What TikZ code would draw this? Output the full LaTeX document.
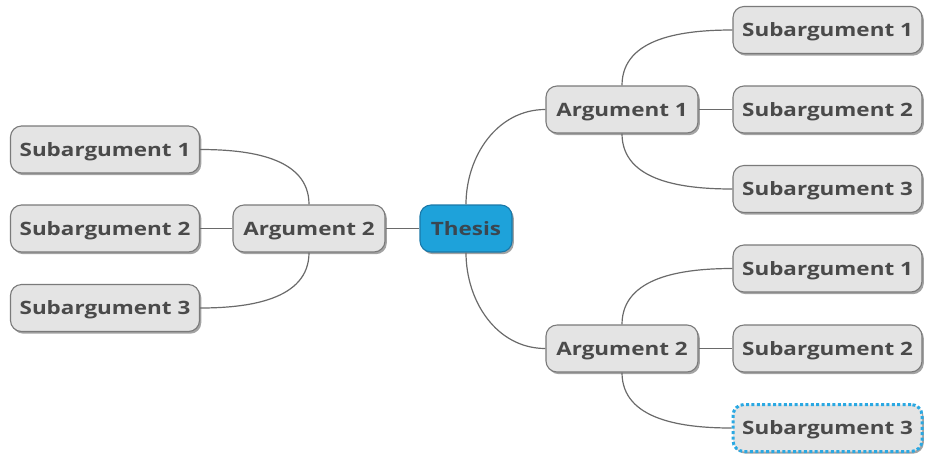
\documentclass[tikz,border=0pt]{standalone}
\usepackage{fontspec}
\newfontfamily\nodefont[FakeStretch=1.22]{Open Sans Bold}
\usetikzlibrary{shadows}
\definecolor{nodefill}{HTML}{E4E4E4}
\definecolor{nodeborder}{HTML}{7A7A7A}
\definecolor{txt}{HTML}{4A4A4A}
\definecolor{thesistxt}{HTML}{3A4650}
\definecolor{thesisfill}{HTML}{1EA2DA}
\definecolor{thesisborder}{HTML}{1A78A8}
\definecolor{selblue}{HTML}{2AA8E2}
\definecolor{linkcol}{HTML}{6A6A6A}
\tikzset{
  box/.style={draw=nodeborder, line width=1.1pt, fill=nodefill, rounded corners=11pt,
    minimum height=47pt, inner sep=0pt, text=txt, font=\nodefont\fontsize{18.4}{20}\selectfont,
    text height=13.2pt, text depth=0pt,
    drop shadow={shadow xshift=1.8pt, shadow yshift=-2.2pt, fill=black!60, opacity=0.6}},
  subbox/.style={box, minimum width=189pt},
  argbox/.style={box, minimum width=152pt},
  thesisbox/.style={box, minimum width=92pt, fill=thesisfill, draw=thesisborder, text=thesistxt},
  selbox/.style={subbox, draw=selblue, line width=3pt, dash pattern=on 3pt off 2.4pt},
  link/.style={draw=linkcol, line width=1.2pt}
}
\begin{document}
\begin{tikzpicture}[x=1pt, y=-1pt]
\useasboundingbox (0,0) rectangle (926,459);
\node[thesisbox] (th) at (466,228.5) {Thesis};
\node[argbox] (al) at (309,228.5) {Argument 2};
\node[subbox] (l1) at (105,149.5) {Subargument 1};
\node[subbox] (l2) at (105,228.5) {Subargument 2};
\node[subbox] (l3) at (105,308) {Subargument 3};
\node[argbox] (a1) at (622,109.5) {Argument 1};
\node[argbox] (a2) at (622,348.5) {Argument 2};
\node[subbox] (r1) at (827.5,30) {Subargument 1};
\node[subbox] (r2) at (827.5,109.5) {Subargument 2};
\node[subbox] (r3) at (827.5,189) {Subargument 3};
\node[subbox] (r4) at (827.5,268.5) {Subargument 1};
\node[subbox] (r5) at (827.5,348.5) {Subargument 2};
\node[selbox] (r6) at (827.5,428) {Subargument 3};
\path[link] (th.west) -- (al.east);
\path[link] (th.north) to[out=90,in=180] (a1.west);
\path[link] (th.south) to[out=-90,in=180] (a2.west);
\path[link] (al.north) to[out=90,in=0] (l1.east);
\path[link] (al.west) -- (l2.east);
\path[link] (al.south) to[out=-90,in=0] (l3.east);
\path[link] (a1.north) to[out=90,in=180] (r1.west);
\path[link] (a1.east) -- (r2.west);
\path[link] (a1.south) to[out=-90,in=180] (r3.west);
\path[link] (a2.north) to[out=90,in=180] (r4.west);
\path[link] (a2.east) -- (r5.west);
\path[link] (a2.south) to[out=-90,in=180] (r6.west);
\end{tikzpicture}
\end{document}
